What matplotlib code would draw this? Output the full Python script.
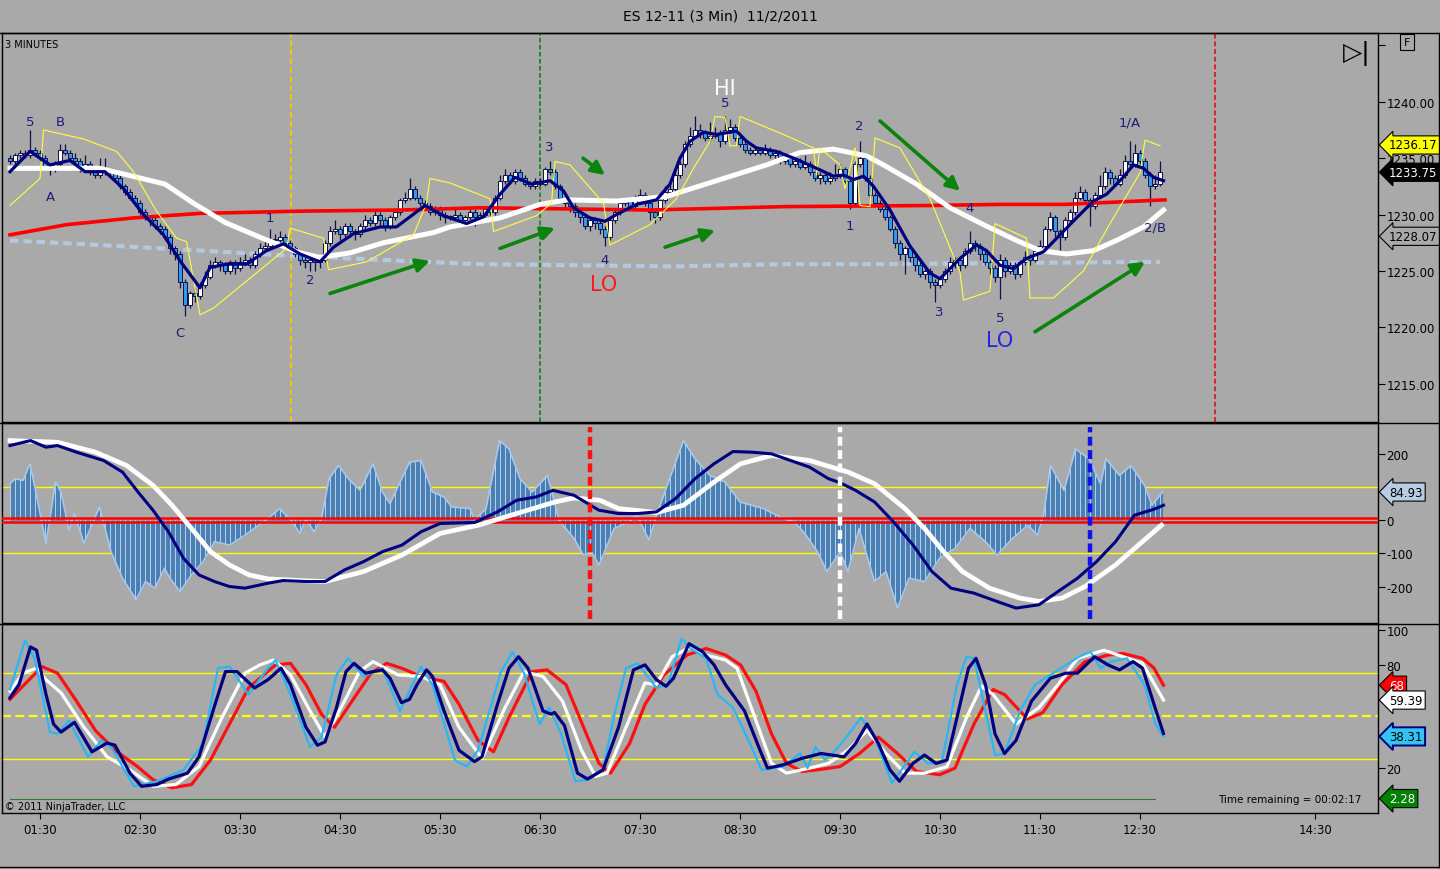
import numpy as np
import matplotlib
matplotlib.use("Agg")
import matplotlib.pyplot as plt
from matplotlib.lines import Line2D

# ---------------- price bars (3 min, bar 0 = 01:12) ----------------
bar_open = [
    1235.0, 1234.75, 1235.25, 1235.5, 1235.25, 1235.75, 1235.5, 1235.0, 1234.25, 1234.0,
    1234.5, 1235.75, 1235.5, 1235.0, 1234.75, 1234.25, 1234.5, 1234.0, 1233.5, 1234.0,
    1233.75, 1233.75, 1233.25, 1232.5, 1232.0, 1231.5, 1231.0, 1230.25, 1229.75, 1229.5,
    1229.0, 1228.75, 1228.0, 1227.0, 1226.5, 1224.0, 1222.0, 1223.0, 1222.75, 1223.75,
    1224.5, 1225.5, 1225.75, 1225.5, 1225.0, 1225.75, 1225.25, 1225.75, 1226.0, 1225.5,
    1226.5, 1227.0, 1227.25, 1227.75, 1227.75, 1228.0, 1227.5, 1227.0, 1226.5, 1226.0,
    1225.75, 1226.0, 1225.75, 1226.0, 1227.5, 1228.5, 1228.75, 1228.25, 1229.0, 1228.5,
    1228.25, 1229.0, 1229.5, 1229.25, 1230.0, 1229.5, 1229.0, 1229.75, 1230.25, 1231.25,
    1231.5, 1232.25, 1231.5, 1231.0, 1230.75, 1230.25, 1230.5, 1230.0, 1229.75, 1229.75,
    1230.0, 1229.5, 1229.75, 1230.25, 1229.75, 1230.0, 1230.5, 1230.25, 1231.5, 1233.0,
    1233.5, 1233.0, 1233.75, 1233.25, 1232.75, 1232.5, 1233.0, 1232.75, 1234.0, 1233.75,
    1232.5, 1231.5, 1231.0, 1230.75, 1230.25, 1229.75, 1229.0, 1229.5, 1229.25, 1228.75,
    1228.0, 1229.5, 1230.25, 1231.0, 1231.25, 1230.75, 1231.5, 1231.75, 1231.0, 1230.25,
    1229.75, 1231.25, 1232.0, 1232.25, 1233.5, 1234.5, 1236.25, 1237.0, 1237.5, 1237.25,
    1236.75, 1237.0, 1237.25, 1236.5, 1237.5, 1237.75, 1236.75, 1236.25, 1235.75, 1235.5,
    1235.75, 1235.5, 1235.75, 1235.25, 1235.5, 1234.75, 1235.0, 1234.5, 1234.75, 1234.25,
    1234.5, 1233.75, 1233.25, 1233.5, 1233.0, 1233.25, 1233.5, 1234.0, 1233.0, 1231.0,
    1234.5, 1235.0, 1233.25, 1231.75, 1231.0, 1230.5, 1229.75, 1228.75, 1227.5, 1226.5,
    1227.0, 1226.25, 1225.5, 1224.75, 1225.0, 1224.0, 1223.75, 1224.25, 1225.0, 1225.75,
    1226.0, 1225.5, 1226.75, 1227.5, 1227.25, 1226.5, 1225.75, 1225.25, 1224.5, 1226.0,
    1225.0, 1225.5, 1224.75, 1225.75, 1226.25, 1226.0, 1226.75, 1227.25, 1228.75, 1229.75,
    1228.5, 1228.0, 1229.5, 1230.25, 1231.5, 1232.0, 1231.25, 1230.75, 1231.75, 1232.5,
    1233.75, 1233.25, 1232.75, 1233.5, 1234.75, 1234.5, 1235.5, 1234.75, 1233.5, 1232.5,
    1232.75,
]
bar_close = [
    1234.75, 1235.25, 1235.5, 1235.25, 1235.75, 1235.5, 1235.0, 1234.25, 1234.0, 1234.5,
    1235.75, 1235.5, 1235.0, 1234.75, 1234.25, 1234.5, 1234.0, 1233.5, 1234.0, 1233.75,
    1233.75, 1233.25, 1232.5, 1232.0, 1231.5, 1231.0, 1230.25, 1229.75, 1229.5, 1229.0,
    1228.75, 1228.0, 1227.0, 1226.5, 1224.0, 1222.0, 1223.0, 1222.75, 1223.75, 1224.5,
    1225.5, 1225.75, 1225.5, 1225.0, 1225.75, 1225.25, 1225.75, 1226.0, 1225.5, 1226.5,
    1227.0, 1227.25, 1227.75, 1227.75, 1228.0, 1227.5, 1227.0, 1226.5, 1226.0, 1225.75,
    1226.0, 1225.75, 1226.0, 1227.5, 1228.5, 1228.75, 1228.25, 1229.0, 1228.5, 1228.25,
    1229.0, 1229.5, 1229.25, 1230.0, 1229.5, 1229.0, 1229.75, 1230.25, 1231.25, 1231.5,
    1232.25, 1231.5, 1231.0, 1230.75, 1230.25, 1230.5, 1230.0, 1229.75, 1229.75, 1230.0,
    1229.5, 1229.75, 1230.25, 1229.75, 1230.0, 1230.5, 1230.25, 1231.5, 1233.0, 1233.5,
    1233.0, 1233.75, 1233.25, 1232.75, 1232.5, 1233.0, 1232.75, 1234.0, 1233.75, 1232.5,
    1231.5, 1231.0, 1230.75, 1230.25, 1229.75, 1229.0, 1229.5, 1229.25, 1228.75, 1228.0,
    1229.5, 1230.25, 1231.0, 1231.25, 1230.75, 1231.5, 1231.75, 1231.0, 1230.25, 1229.75,
    1231.25, 1232.0, 1232.25, 1233.5, 1234.5, 1236.25, 1237.0, 1237.5, 1237.25, 1236.75,
    1237.0, 1237.25, 1236.5, 1237.5, 1237.75, 1236.75, 1236.25, 1235.75, 1235.5, 1235.75,
    1235.5, 1235.75, 1235.25, 1235.5, 1234.75, 1235.0, 1234.5, 1234.75, 1234.25, 1234.5,
    1233.75, 1233.25, 1233.5, 1233.0, 1233.25, 1233.5, 1234.0, 1233.0, 1231.0, 1234.5,
    1235.0, 1233.25, 1231.75, 1231.0, 1230.5, 1229.75, 1228.75, 1227.5, 1226.5, 1227.0,
    1226.25, 1225.5, 1224.75, 1225.0, 1224.0, 1223.75, 1224.25, 1225.0, 1225.75, 1226.0,
    1225.5, 1226.75, 1227.5, 1227.25, 1226.5, 1225.75, 1225.25, 1224.5, 1226.0, 1225.0,
    1225.5, 1224.75, 1225.75, 1226.25, 1226.0, 1226.75, 1227.25, 1228.75, 1229.75, 1228.5,
    1228.0, 1229.5, 1230.25, 1231.5, 1232.0, 1231.25, 1230.75, 1231.75, 1232.5, 1233.75,
    1233.25, 1232.75, 1233.5, 1234.75, 1234.5, 1235.5, 1234.75, 1233.5, 1232.5, 1232.75,
    1233.75,
]
bar_high = [
    1235.25, 1235.5, 1235.75, 1235.75, 1237.5, 1236.0, 1235.75, 1235.25, 1234.5, 1234.75,
    1236.25, 1236.25, 1235.75, 1235.5, 1235.0, 1235.25, 1234.75, 1234.25, 1235.0, 1235.0,
    1234.0, 1234.0, 1233.5, 1232.75, 1232.25, 1231.75, 1231.25, 1230.5, 1230.0, 1229.75,
    1229.25, 1229.0, 1228.25, 1227.25, 1226.75, 1224.25, 1223.25, 1223.5, 1224.0, 1225.0,
    1226.0, 1226.25, 1226.0, 1225.75, 1226.0, 1226.0, 1226.25, 1226.5, 1226.25, 1226.75,
    1227.5, 1227.75, 1228.75, 1228.25, 1228.5, 1228.25, 1227.75, 1227.25, 1226.75, 1226.25,
    1226.25, 1226.25, 1226.25, 1227.75, 1229.0, 1229.5, 1229.0, 1229.25, 1229.25, 1228.75,
    1229.25, 1230.0, 1229.75, 1230.5, 1230.25, 1229.75, 1230.0, 1230.5, 1231.5, 1232.0,
    1233.25, 1232.5, 1231.75, 1231.25, 1231.0, 1230.75, 1230.75, 1230.25, 1230.0, 1230.5,
    1230.25, 1230.0, 1230.5, 1230.5, 1230.25, 1230.75, 1230.75, 1231.75, 1233.5, 1234.0,
    1233.75, 1234.0, 1234.0, 1233.5, 1233.0, 1233.25, 1233.25, 1234.25, 1234.75, 1234.0,
    1232.75, 1231.75, 1231.25, 1231.0, 1230.5, 1230.0, 1229.75, 1229.75, 1229.5, 1229.0,
    1229.75, 1230.5, 1231.5, 1231.5, 1231.5, 1231.75, 1232.25, 1232.0, 1231.25, 1230.5,
    1231.5, 1232.5, 1232.75, 1233.75, 1234.75, 1236.5, 1237.75, 1238.75, 1238.0, 1237.5,
    1238.25, 1237.75, 1237.5, 1238.75, 1238.5, 1238.0, 1237.0, 1236.5, 1236.0, 1236.0,
    1236.0, 1236.25, 1236.0, 1235.75, 1235.75, 1235.5, 1235.25, 1235.0, 1235.0, 1235.25,
    1234.75, 1234.0, 1233.75, 1233.75, 1233.75, 1234.5, 1234.5, 1234.25, 1233.25, 1234.75,
    1236.5, 1235.25, 1233.5, 1232.0, 1231.25, 1230.75, 1230.0, 1229.0, 1227.75, 1227.25,
    1227.25, 1226.5, 1225.75, 1225.25, 1225.25, 1224.25, 1224.5, 1225.25, 1226.25, 1226.25,
    1226.25, 1227.0, 1228.5, 1227.75, 1227.5, 1226.75, 1226.0, 1225.5, 1226.5, 1226.25,
    1225.75, 1225.75, 1226.0, 1226.75, 1226.5, 1227.0, 1227.75, 1229.0, 1230.25, 1230.0,
    1228.75, 1229.75, 1230.5, 1232.0, 1232.5, 1232.25, 1231.5, 1232.0, 1233.5, 1234.25,
    1234.0, 1233.5, 1234.0, 1235.25, 1236.5, 1236.25, 1235.75, 1235.0, 1233.75, 1233.5,
    1234.75,
]
bar_low = [
    1234.5, 1234.5, 1235.0, 1235.0, 1235.0, 1235.25, 1234.75, 1234.0, 1233.5, 1233.75,
    1234.25, 1235.25, 1234.75, 1234.5, 1233.75, 1234.0, 1233.5, 1233.25, 1233.25, 1233.5,
    1233.5, 1233.0, 1232.25, 1231.75, 1231.25, 1230.75, 1230.0, 1229.5, 1229.0, 1228.75,
    1228.25, 1227.75, 1226.5, 1226.0, 1223.5, 1221.0, 1221.75, 1222.25, 1222.5, 1223.5,
    1224.25, 1225.25, 1225.0, 1224.75, 1224.75, 1224.75, 1225.0, 1225.5, 1225.25, 1225.25,
    1226.25, 1226.75, 1227.0, 1227.25, 1227.5, 1227.25, 1226.75, 1226.25, 1225.5, 1225.25,
    1225.0, 1225.0, 1225.25, 1225.75, 1227.25, 1228.25, 1227.75, 1228.0, 1228.0, 1227.75,
    1228.0, 1228.75, 1229.0, 1229.0, 1229.0, 1228.5, 1228.75, 1229.5, 1230.0, 1231.0,
    1231.25, 1231.25, 1230.75, 1230.5, 1230.0, 1230.0, 1229.5, 1229.25, 1229.5, 1229.5,
    1229.0, 1229.25, 1229.5, 1229.0, 1229.5, 1229.75, 1230.0, 1230.0, 1231.25, 1232.75,
    1232.75, 1232.75, 1233.0, 1232.5, 1232.25, 1232.25, 1232.5, 1232.5, 1233.5, 1232.25,
    1231.25, 1230.5, 1230.25, 1229.75, 1229.25, 1228.75, 1228.5, 1228.75, 1228.25, 1227.25,
    1227.75, 1229.25, 1230.0, 1230.75, 1230.5, 1230.5, 1231.25, 1230.75, 1229.5, 1229.25,
    1229.5, 1231.0, 1231.75, 1232.0, 1233.25, 1234.25, 1236.0, 1236.75, 1236.75, 1236.5,
    1236.5, 1236.75, 1236.0, 1236.25, 1237.25, 1236.5, 1236.0, 1235.5, 1235.25, 1235.25,
    1235.25, 1235.25, 1235.0, 1235.0, 1234.5, 1234.5, 1234.25, 1234.25, 1234.0, 1234.0,
    1233.5, 1233.0, 1232.75, 1232.75, 1232.75, 1233.0, 1233.25, 1232.75, 1230.5, 1230.75,
    1234.25, 1233.0, 1231.5, 1230.75, 1230.25, 1229.5, 1228.5, 1227.0, 1226.0, 1224.75,
    1225.75, 1225.0, 1224.5, 1224.25, 1223.5, 1222.25, 1223.5, 1224.0, 1224.75, 1225.25,
    1225.0, 1225.25, 1226.5, 1226.75, 1226.0, 1225.5, 1224.75, 1224.0, 1222.5, 1224.5,
    1224.75, 1224.25, 1224.5, 1225.5, 1225.5, 1225.75, 1226.5, 1227.0, 1228.5, 1228.0,
    1226.5, 1227.75, 1229.25, 1230.0, 1231.25, 1231.0, 1229.0, 1230.5, 1231.5, 1232.25,
    1232.75, 1232.5, 1232.5, 1233.25, 1234.25, 1234.25, 1234.5, 1233.25, 1230.75, 1232.25,
    1232.5,
]

# ---------------- price-panel overlays (bar index, value) ----------------
fast_ma_bar = [0, 4, 8, 12, 15, 19, 22.7, 26.7, 30.7, 34, 38, 40, 43.3, 47.3, 51.3, 54.7, 58, 62,
               64.7, 68.7, 74, 77.3, 80, 83, 86.7, 91.3, 94.7, 98, 101, 104.3, 108, 110.7, 112.7,
               116, 119, 121.3, 125.3, 129.3, 132, 134, 136, 138.7, 141.3, 145.3, 147.3, 149.3,
               153.3, 157.3, 161.3, 164.7, 166.7, 168.7, 170.7, 172.7, 176, 180, 184, 186, 190,
               193.3, 195.3, 198, 200.7, 203.3, 206.7, 210, 213.3, 216.7, 219.3, 222, 224.7,
               226.7, 228.7, 230.7]
fast_ma_val = [1233.8, 1235.6, 1234.4, 1234.8, 1233.8, 1233.8, 1232.3, 1230.0, 1228.2, 1225.9,
               1223.5, 1225.3, 1225.6, 1225.6, 1226.8, 1227.4, 1226.5, 1225.8, 1227.1, 1228.3,
               1228.9, 1228.9, 1229.8, 1230.8, 1229.9, 1229.2, 1229.8, 1231.8, 1233.3, 1232.7,
               1233.0, 1232.1, 1230.6, 1229.7, 1229.4, 1230.0, 1230.9, 1231.3, 1232.7, 1235.0,
               1236.5, 1237.3, 1237.1, 1237.4, 1236.5, 1235.9, 1235.6, 1234.9, 1234.1, 1233.4,
               1233.5, 1233.1, 1233.4, 1232.5, 1230.4, 1227.2, 1224.8, 1224.3, 1226.1, 1227.3,
               1226.8, 1225.5, 1225.2, 1226.1, 1226.7, 1228.2, 1229.7, 1231.2, 1231.8, 1233.0,
               1234.4, 1234.1, 1233.3, 1233.0]

slow_ma_bar = [0, 18, 31, 36.7, 43, 51, 58, 62, 68, 74.7, 84.7, 88, 98, 106, 111.3, 121.3, 131.3,
               141.3, 151.3, 158, 164.7, 171.3, 174.7, 181.3, 188, 194.7, 201.3, 206, 211.3,
               216.7, 221.3, 226.7, 230.7]
slow_ma_val = [1234.1, 1234.1, 1232.7, 1231.0, 1229.3, 1227.8, 1226.6, 1226.2, 1226.6, 1227.5,
               1228.4, 1228.9, 1229.7, 1230.9, 1231.3, 1231.2, 1231.6, 1233.0, 1234.4, 1235.5,
               1235.8, 1235.2, 1234.4, 1232.7, 1230.6, 1229.1, 1227.7, 1226.8, 1226.5, 1226.8,
               1227.7, 1228.9, 1230.4]

red_ma_bar = [0, 11.3, 24.7, 38, 58, 78, 94, 128, 154.7, 184, 198, 211, 231]
red_ma_val = [1228.2, 1229.1, 1229.7, 1230.1, 1230.3, 1230.4, 1230.6, 1230.4, 1230.7, 1230.8,
              1230.9, 1230.9, 1231.3]

long_ma_bar = [0, 18, 38, 58, 78, 94, 133, 155, 175, 198, 230]
long_ma_val = [1227.7, 1227.3, 1226.8, 1226.3, 1225.9, 1225.6, 1225.4, 1225.6, 1225.6, 1225.7,
               1225.8]

channel_bar = [0, 6, 6.7, 14.7, 21.3, 24.7, 29.3, 33.3, 35.3, 38, 40.7, 55.3, 56, 62.7, 63.7,
               71.3, 80.7, 83.3, 84, 88, 96, 96.7, 105.3, 108.3, 109, 112, 118.7, 120, 128,
               133.3, 136.7, 140, 141, 143, 144, 145.3, 146, 154.7, 160.7, 161.3, 162, 166, 167,
               169, 170, 172, 173, 178, 184, 190, 190.7, 196, 197, 203.3, 204, 208.7, 214.7,
               220, 226, 227, 230]
channel_val = [1230.8, 1233.2, 1237.5, 1236.7, 1235.6, 1233.8, 1230.3, 1227.9, 1227.6, 1221.1,
               1221.7, 1227.0, 1228.8, 1227.9, 1225.1, 1225.8, 1228.2, 1231.0, 1233.2, 1232.8,
               1231.4, 1228.5, 1229.9, 1231.0, 1234.7, 1234.4, 1231.0, 1227.3, 1229.1, 1231.4,
               1234.1, 1236.5, 1238.7, 1238.6, 1236.1, 1236.1, 1238.7, 1237.1, 1235.9, 1233.5,
               1235.9, 1234.4, 1232.3, 1235.9, 1230.8, 1230.7, 1236.8, 1235.9, 1231.4, 1224.9,
               1222.4, 1223.2, 1229.2, 1227.9, 1222.6, 1222.6, 1225.0, 1229.2, 1233.7, 1236.6,
               1236.1]

# wave-count labels: bar, price, text
wave_bar = [4, 10, 8, 34, 52, 60, 107.8, 119, 143, 169.8, 168, 185.8, 192, 198, 224, 229]
wave_price = [1238.25, 1238.25, 1231.6, 1219.5, 1229.7, 1224.25, 1236.0, 1226.0, 1239.9,
              1237.9, 1229.0, 1221.4, 1230.6, 1220.9, 1238.25, 1228.9]
wave_text = ["5", "B", "A", "C", "1", "2", "3", "4", "5", "2", "1", "3", "4", "5", "1/A", "2/B"]

big_bar = [118.8, 143, 198]
big_price = [1223.8, 1241.2, 1218.9]
big_text = ["LO", "HI", "LO"]
big_color = ["#ff1a1a", "white", "#2424e6"]

# green trend arrows: start bar, start price, end bar, end price
arrow_x0 = [64, 98, 114.6, 131, 174, 205]
arrow_y0 = [1223.0, 1227.0, 1235.0, 1227.1, 1238.3, 1219.6]
arrow_x1 = [84, 109, 119, 141, 190, 227]
arrow_y1 = [1225.9, 1228.8, 1233.5, 1228.6, 1232.1, 1225.8]

# ---------------- middle panel ----------------
cci_bar = [0, 1, 2.6, 4, 5.3, 7.2, 9.1, 10.2, 11.8, 12.9, 14.8, 17.9, 20.2, 22.5, 25.2, 27.1, 29,
           30.9, 32, 34, 36.3, 38.6, 40.9, 44, 47, 51.6, 53.9, 56.2, 58, 59.2, 60.8, 62.3, 63.8,
           65.7, 67.7, 70, 72.6, 74.5, 76, 79.9, 82.2, 84.5, 86.8, 88.3, 92, 92.9, 95.2, 97.9,
           99.8, 102, 104.4, 107.5, 109.8, 112.8, 114.7, 116.3, 117.8, 120.8, 123.8, 125.4,
           127.8, 129.3, 132.4, 134.7, 137, 140, 143, 146, 150.7, 154.6, 156.9, 159.2, 161.5,
           163.4, 166, 167.6, 169.8, 172.9, 175.2, 177.5, 179.8, 182.9, 185.9, 189, 192, 195.1,
           197.4, 200.5, 203.6, 205.5, 206.7, 208.1, 210.8, 213.1, 215.8, 218.1, 219.2, 221.9,
           224.2, 226.9, 228.4, 230.5]
cci_val = [110, 125, 120, 170, 75, -70, 115, 85, -30, 20, -70, 40, -95, -175, -240, -185, -205,
           -145, -175, -215, -165, -125, -65, -75, -45, 5, 35, 0, -40, 5, -35, 5, 125, 165, 125,
           90, 170, 85, 50, 175, 180, 85, 70, 40, 35, 0, 35, 240, 215, 125, 85, 135, 0, -55,
           -105, -95, -135, -25, -5, 15, -60, 15, 145, 240, 185, 135, 115, 55, 35, 5, -5, -45,
           -95, -155, -95, -155, -25, -185, -155, -265, -175, -185, -115, -85, -25, -65, -105,
           -55, -15, -45, 15, 165, 90, 215, 185, 110, 185, 135, 165, 105, 45, 85]

osc_fast_bar = [0, 4.1, 7.2, 9.5, 13.3, 18.7, 22.5, 25.6, 28.6, 31.7, 34.7, 37.8, 40.9, 43.9, 47,
                51.6, 54.6, 59.2, 63, 66.9, 70.7, 74.5, 78.4, 82.2, 86, 92.9, 97.5, 101.3, 105.2,
                108.6, 112.8, 117.8, 121.7, 125.5, 129.3, 133.1, 137, 140.8, 144.6, 148.4,
                152.3, 156.1, 159.9, 163.7, 166, 169.1, 172.9, 176.7, 180.6, 184.4, 188.2,
                192.8, 197.4, 201.2, 205.8, 209.6, 213.5, 217.3, 221.1, 224.9, 228.8, 230.7]
osc_fast_val = [225, 240, 220, 225, 205, 180, 145, 85, 30, -35, -115, -165, -185, -200, -205,
                -190, -182, -185, -185, -150, -125, -95, -75, -35, -10, -7, 25, 60, 70, 90, 75,
                30, 20, 20, 25, 65, 125, 170, 207, 205, 200, 180, 160, 125, 113, 90, 55, -5, -75,
                -155, -205, -220, -245, -265, -255, -215, -175, -125, -65, 15, 33, 45]

osc_slow_bar = [0, 9.5, 17.1, 23.3, 28.6, 32.4, 36.3, 40.1, 43.9, 47.8, 51.6, 59.2, 63, 70.7,
                78.4, 86, 93.7, 101.3, 109, 112.8, 118, 121.7, 129.3, 134.7, 140.8, 146.1, 152.3,
                159.9, 167.6, 172.9, 179, 182.9, 186.7, 190.5, 195.9, 202, 205.8, 210.4, 215,
                221.1, 225.7, 230.3]
osc_slow_val = [240, 235, 205, 165, 105, 45, -25, -95, -135, -165, -177, -183, -185, -155, -105,
                -40, -15, 20, 55, 67, 60, 35, 23, 45, 115, 170, 195, 180, 145, 110, 35, -25, -95,
                -155, -205, -235, -245, -235, -200, -135, -75, -15]

# ---------------- lower panel (stochastics) ----------------
stoch_navy_bar = [0, 1.8, 4.1, 5.3, 7.2, 8.7, 10.2, 12.9, 16.4, 19.4, 21, 24, 26.3, 29.4, 31.7,
                  35.5, 37.8, 40.8, 43.1, 45.4, 48.9, 51.6, 54.2, 56.1, 59.2, 61.5, 63, 65.3,
                  67.2, 68.8, 71.1, 74.5, 76, 78.3, 79.9, 81.4, 83.3, 84.5, 86.8, 89.8, 92.9,
                  94.4, 97.5, 99.8, 101.7, 103.6, 106.6, 108.2, 108.9, 110.9, 113.5, 115.5,
                  118.6, 121.7, 124.7, 127, 129.3, 131.2, 132.7, 135.8, 138.5, 140.8, 143.1,
                  146.9, 150, 151.5, 154.6, 158.4, 162.2, 166.8, 169.1, 171.4, 173.7, 176, 177.9,
                  180.6, 182.9, 185.2, 187.4, 189.7, 191.7, 193.2, 195.1, 197, 198.9, 201.2,
                  204.3, 208.1, 211.2, 213.5, 216.9, 219.6, 221.9, 224.6, 226.5, 228.8, 230.7]
stoch_navy_val = [60.7, 68.3, 90.2, 88.3, 62.6, 45.5, 40.8, 46.5, 29.4, 34.5, 33.2, 17, 9.4, 10.4,
                  13.6, 17, 26.5, 55, 75.9, 75.9, 66.4, 71.2, 77.9, 68.3, 43.6, 33.2, 35.1, 55,
                  75.9, 80.7, 75, 76.9, 72.1, 57.9, 59.8, 68.3, 76.9, 73.1, 53.1, 30.3, 23.7,
                  26.5, 57, 77.9, 84.5, 77.9, 53.1, 51.2, 52.2, 44.6, 17, 13.6, 18.9, 43.6, 76.9,
                  79.8, 71.2, 67.4, 72.1, 92.1, 87.4, 79.8, 68.3, 53.1, 30.3, 19.9, 21.8, 25.6,
                  28.4, 26.5, 34.1, 45.5, 34.1, 18.9, 12.3, 22.7, 27.5, 22.7, 24.6, 53.1, 77.9,
                  83.6, 68.3, 39.8, 28.4, 36, 58.8, 72.1, 75, 75, 84.5, 79.8, 76.9, 81.7, 77.9,
                  56.9, 40.0]

stoch_cyan_bar = [0, 3, 4.9, 8, 9.5, 11.8, 15.6, 18.3, 20.2, 24.8, 29.4, 34.7, 38.6, 41.6, 43.9,
                  47.7, 51.6, 53.1, 56.1, 60, 62.3, 65.3, 67.6, 70.7, 74.5, 78, 82.2, 84.5, 89,
                  91.3, 93.6, 98.2, 100.5, 102.8, 105.9, 107.8, 110.1, 113.1, 115.5, 118.6,
                  120.9, 123.2, 125.5, 129.3, 131.6, 134.3, 136.2, 139.2, 141.5, 144.6, 147.7,
                  150.3, 154.6, 158, 159.5, 161.1, 163, 164.5, 166.8, 170.2, 172.9, 176.4, 180.9,
                  183.6, 186.3, 189.4, 191.3, 192.8, 197, 198.9, 202, 205, 208.1, 213.8, 216.1,
                  218.1, 220.3, 223.4, 226.9, 229.1, 230.7]
stoch_cyan_val = [65.5, 94, 83.6, 40.8, 39.8, 47.4, 26.5, 36, 32.2, 9.4, 12.3, 18.9, 34.1, 77.9,
                  78.8, 62.6, 77.9, 82.6, 62.6, 32.2, 37.9, 74, 83.6, 73.1, 77.9, 53.1, 78.8,
                  68.3, 24.6, 20.8, 30.3, 75.9, 87.3, 75, 45.5, 55, 40.8, 12.3, 13.2, 18.9, 51.2,
                  77.9, 80.7, 66.4, 68.3, 95, 89.3, 83.6, 62.6, 55, 36, 18.9, 20.8, 28.4, 19.9,
                  32.2, 24.6, 28.4, 36, 49.3, 37.9, 11.3, 29.4, 22.7, 22.7, 68.3, 84.5, 83.6,
                  27.5, 28.4, 53.1, 68.3, 74, 84.5, 87.4, 77.9, 81.7, 83.6, 68.3, 45.5, 38.31]

stoch_white_bar = [0, 2.6, 5.3, 7.2, 10.2, 14.8, 19.4, 24, 28.6, 33.2, 37.8, 42.4, 47, 50, 52.7,
                   56.1, 60, 63, 66.9, 69.9, 72.6, 77.6, 82.2, 86, 89.8, 94.4, 99, 102.8, 106.6,
                   110.5, 114.3, 117.1, 119.4, 123.2, 127, 129.3, 132.4, 136.2, 139.2, 143.1,
                   145.4, 149.2, 152.3, 155.3, 159.9, 163.7, 167.6, 171.4, 175.2, 179, 182.9,
                   187.4, 191.3, 194.3, 196.6, 201.2, 205.8, 209.6, 213.5, 218.8, 222.6, 226.5,
                   230.7]
stoch_white_val = [64.5, 75, 77.9, 71.2, 63.6, 43.6, 26.5, 18.9, 9.4, 10.4, 20.8, 49.3, 75, 79.8,
                   82.6, 74, 53.1, 37.9, 58.8, 75.9, 81.7, 74, 73.1, 68.3, 43.6, 25.6, 55, 75.9,
                   73.1, 58.8, 30.3, 15.1, 17, 43.6, 69.3, 68.3, 84.5, 90.2, 85.5, 82.6, 77.9,
                   47.4, 22.7, 17, 19.9, 22.7, 30.3, 41.7, 28.4, 17, 17, 20.8, 49.3, 67.4, 62.6,
                   45.5, 55, 68.3, 83.6, 88.3, 84.5, 80.7, 59.39]

stoch_red_bar = [0, 6.4, 9.5, 13.3, 17.1, 21, 25.5, 28.6, 32.4, 36.3, 40.1, 43.9, 47.7, 53.1,
                 56.1, 59.2, 62.3, 64.9, 68.4, 72.2, 75.3, 78.3, 82.2, 86.8, 89.8, 93.6, 96.7,
                 99.8, 104.4, 107.4, 111.2, 115.8, 117.8, 120.1, 123.9, 127, 130.8, 135.4, 139.2,
                 143.1, 146.1, 149.2, 152.3, 155.3, 158.4, 161.4, 166, 169.9, 173.7, 177.5,
                 181.3, 185.9, 189, 192.8, 196.6, 198.9, 203.5, 206.6, 210.4, 215, 219.6, 222.6,
                 226.5, 228.8, 230.7]
stoch_red_val = [59.8, 78.8, 75, 58.8, 41.7, 30.3, 20.8, 13.2, 8.5, 10.4, 24.6, 45.5, 66.4, 79.8,
                 80.7, 68.3, 51.2, 43.6, 58.8, 75, 80.7, 77.9, 73.1, 70.2, 57, 36, 29.4, 49.3,
                 75.9, 76.9, 68.3, 36, 22.7, 17, 34.1, 56.9, 74, 85.5, 89.3, 85.5, 79.8, 64.5,
                 39.8, 22.7, 18, 18.9, 20.8, 28.4, 37.9, 28.4, 18, 16.1, 19.9, 45.5, 65.5, 62.6,
                 48.4, 52.2, 68.3, 81.7, 85.5, 86.4, 83.6, 77.9, 68]

volume_line_bar = [0, 229]
volume_line_val = [2.28, 2.28]

# x axis labels
tick_bar = [6, 26, 46, 66, 86, 106, 126, 146, 166, 186, 206, 226, 261.1]
tick_text = ["01:30", "02:30", "03:30", "04:30", "05:30", "06:30", "07:30", "08:30",
             "09:30", "10:30", "11:30", "12:30", "14:30"]

BG = "#a9a9a9"
NAVY = "#000080"
LABEL = "#1c1c78"

fig = plt.figure(figsize=(14.4, 8.7), dpi=100, facecolor=BG)
H = 870.0
L, W = 2 / 1440, 1376 / 1440
ax1 = fig.add_axes([L, 1 - 423 / H, W, (423 - 34) / H])
ax2 = fig.add_axes([L, 1 - 624 / H, W, (624 - 424) / H])
ax3 = fig.add_axes([L, 1 - 814 / H, W, (814 - 625) / H])

for ax in (ax1, ax2, ax3):
    ax.set_facecolor(BG)
    ax.set_xlim(-1.6, 273.6)
    for s in ax.spines.values():
        s.set_color("black")
        s.set_linewidth(1.0)
    ax.yaxis.tick_right()
    ax.tick_params(axis="y", direction="out", length=5, labelsize=8.5, pad=1, colors="black")
    ax.tick_params(axis="x", bottom=False, labelbottom=False)

# ---------- price panel ----------
o = np.array(bar_open)
c = np.array(bar_close)
hi = np.array(bar_high)
lo = np.array(bar_low)
x = np.arange(len(c))
up = c >= o

ax1.plot(long_ma_bar, long_ma_val, color="#b4c8e0", lw=3, ls=(0, (2, 1.2)), zorder=2,
         solid_capstyle="butt")
ax1.vlines(x, lo, hi, color="#10104a", lw=0.9, zorder=3)
body_lo = np.minimum(o, c)
body_h = np.maximum(np.abs(c - o), 0.08)
ax1.bar(x[up], body_h[up], bottom=body_lo[up], width=0.8, color="white",
        edgecolor="#10104a", linewidth=0.7, zorder=4)
ax1.bar(x[~up], body_h[~up], bottom=body_lo[~up], width=0.8, color="#2f9bf0",
        edgecolor="#10104a", linewidth=0.7, zorder=4)

ax1.plot(red_ma_bar, red_ma_val, color="#ff0000", lw=2.6, zorder=5)
ax1.plot(slow_ma_bar, slow_ma_val, color="white", lw=3.6, zorder=6)
ax1.plot(channel_bar, channel_val, color="#ffff40", lw=0.8, zorder=7)
ax1.plot(fast_ma_bar, fast_ma_val, color=NAVY, lw=2.3, zorder=8)

ax1.axvline(56.2, color="#f0c800", lw=1.4, ls=(0, (3, 1.6)), zorder=1)
ax1.axvline(106, color="#008000", lw=1.1, ls=(0, (3, 1.6)), zorder=1)
ax1.axvline(241, color="#e01010", lw=1.2, ls=(0, (3, 1.6)), zorder=1)

for bx, py, t in zip(wave_bar, wave_price, wave_text):
    ax1.text(bx, py, t, color=LABEL, fontsize=9.5, ha="center", va="center", zorder=9)
for bx, py, t, col in zip(big_bar, big_price, big_text, big_color):
    ax1.text(bx, py, t, color=col, fontsize=15, ha="center", va="center", zorder=9)
for xa, ya, xb, yb in zip(arrow_x0, arrow_y0, arrow_x1, arrow_y1):
    ax1.annotate("", xy=(xb, yb), xytext=(xa, ya),
                 arrowprops=dict(arrowstyle="-|>", color="#0a840a", lw=2.6,
                                 mutation_scale=20, shrinkA=0, shrinkB=0), zorder=9)

ax1.set_ylim(1211.6, 1246.1)
ax1.set_yticks([1245, 1240, 1235, 1230, 1225, 1220, 1215])
ax1.set_yticklabels(["", "1240.00", "1235.00", "1230.00", "1225.00", "1220.00", "1215.00"])
ax1.text(0.002, 0.972, "3 MINUTES", transform=ax1.transAxes, fontsize=7, va="center")


def tag(ax, val, txt, fc, tc, ec="black", lw=0.8):
    ax.annotate(txt, xy=(1.0, val), xycoords=("axes fraction", "data"), xytext=(8, 0),
                textcoords="offset points", ha="left", va="center", fontsize=8.5, color=tc,
                bbox=dict(boxstyle="larrow,pad=0.22", fc=fc, ec=ec, lw=lw),
                annotation_clip=False, zorder=10)


tag(ax1, 1236.17, "1236.17", "#ffff00", "black")
tag(ax1, 1233.75, "1233.75", "black", "white")
tag(ax1, 1228.07, "1228.07", BG, "black")

# ---------- middle panel ----------
ax2.set_ylim(-310, 293)
ax2.axhline(100, color="#ffff00", lw=1.0, zorder=1)
ax2.axhline(-100, color="#ffff00", lw=1.0, zorder=1)
fill = ax2.fill_between(cci_bar, 0, cci_val, color="#4a80b4", lw=0, zorder=2)
stripes = ax2.vlines(x, -300, 300, color="#b8d0ea", lw=0.7, zorder=3)
stripes.set_clip_path(fill.get_paths()[0], ax2.transData)
ax2.plot(cci_bar, cci_val, color="#a8c8ea", lw=1.2, zorder=4)
ax2.axhline(6, color="#ff0000", lw=1.8, zorder=5)
ax2.axhline(-6, color="#ff0000", lw=1.8, zorder=5)
ax2.plot(osc_slow_bar, osc_slow_val, color="white", lw=3.4, zorder=6)
ax2.plot(osc_fast_bar, osc_fast_val, color=NAVY, lw=2.2, zorder=7)
ax2.axvline(116, color="#ff1010", lw=3.2, ls=(0, (2, 1)), ymin=0.02, ymax=0.98, zorder=8)
ax2.axvline(166, color="white", lw=3.2, ls=(0, (2, 1)), ymin=0.02, ymax=0.98, zorder=8)
ax2.axvline(216, color="#1010f0", lw=3.2, ls=(0, (2, 1)), ymin=0.02, ymax=0.98, zorder=8)
ax2.set_yticks([200, 0, -100, -200])
ax2.set_yticklabels(["200", "0", "-100", "-200"])
tag(ax2, 84.93, "84.93", "#b8cce4", "black")

# ---------- lower panel ----------
ax3.set_ylim(-6.1, 103.5)
ax3.axhline(75, color="#ffff00", lw=1.0, zorder=1)
ax3.axhline(25, color="#ffff00", lw=1.0, zorder=1)
ax3.axhline(50, color="#ffff00", lw=1.6, ls=(0, (4, 2)), zorder=1)
ax3.plot(volume_line_bar, volume_line_val, color="#2e7d32", lw=0.8, zorder=2)
ax3.plot(stoch_red_bar, stoch_red_val, color="#ff1010", lw=2.3, zorder=3)
ax3.plot(stoch_white_bar, stoch_white_val, color="white", lw=2.3, zorder=4)
ax3.plot(stoch_cyan_bar, stoch_cyan_val, color="#29b6f6", lw=1.6, zorder=5)
ax3.plot(stoch_navy_bar, stoch_navy_val, color=NAVY, lw=2.3, zorder=6)
ax3.set_yticks([100, 80, 20])
ax3.set_yticklabels(["100", "80", "20"])
tag(ax3, 68, "68", "#ff0000", "white")
tag(ax3, 59.39, "59.39", "white", "black")
tag(ax3, 38.31, "38.31", "#33c4f4", "black", ec=NAVY, lw=1.4)
tag(ax3, 2.28, "2.28", "#008000", "white")

ax3.set_xticks(tick_bar)
ax3.set_xticklabels(tick_text)
ax3.tick_params(axis="x", bottom=True, labelbottom=True, direction="out", length=4,
                labelsize=8.5, pad=3, colors="black")

# ---------- frame, header and footer ----------
for yy in (34, 424, 625):
    fig.add_artist(Line2D([0, 1], [1 - yy / H, 1 - yy / H], color="black", lw=1.0))
fig.add_artist(Line2D([0.9993, 0.9993], [1 - 34 / H, 0.002], color="black", lw=1.0))
fig.add_artist(Line2D([0, 1], [0.002, 0.002], color="black", lw=1.0))

fig.text(0.5, 1 - 16 / H, "ES 12-11 (3 Min)  11/2/2011", ha="center", va="center", fontsize=10)
fig.text(1357 / 1440, 1 - 53 / H, "\u25b7|", ha="center", va="center", fontsize=18)
fig.text(1407 / 1440, 1 - 43 / H, "F", ha="center", va="center", fontsize=8,
         bbox=dict(boxstyle="square,pad=0.3", fc="none", ec="black", lw=0.8))
fig.text(1290 / 1440, 1 - 800 / H, "Time remaining = 00:02:17", ha="center", va="center",
         fontsize=7.5)
fig.text(5 / 1440, 1 - 807 / H, "\u00a9 2011 NinjaTrader, LLC", ha="left", va="center",
         fontsize=7)

fig.savefig("out.png", dpi=100, facecolor=BG)
